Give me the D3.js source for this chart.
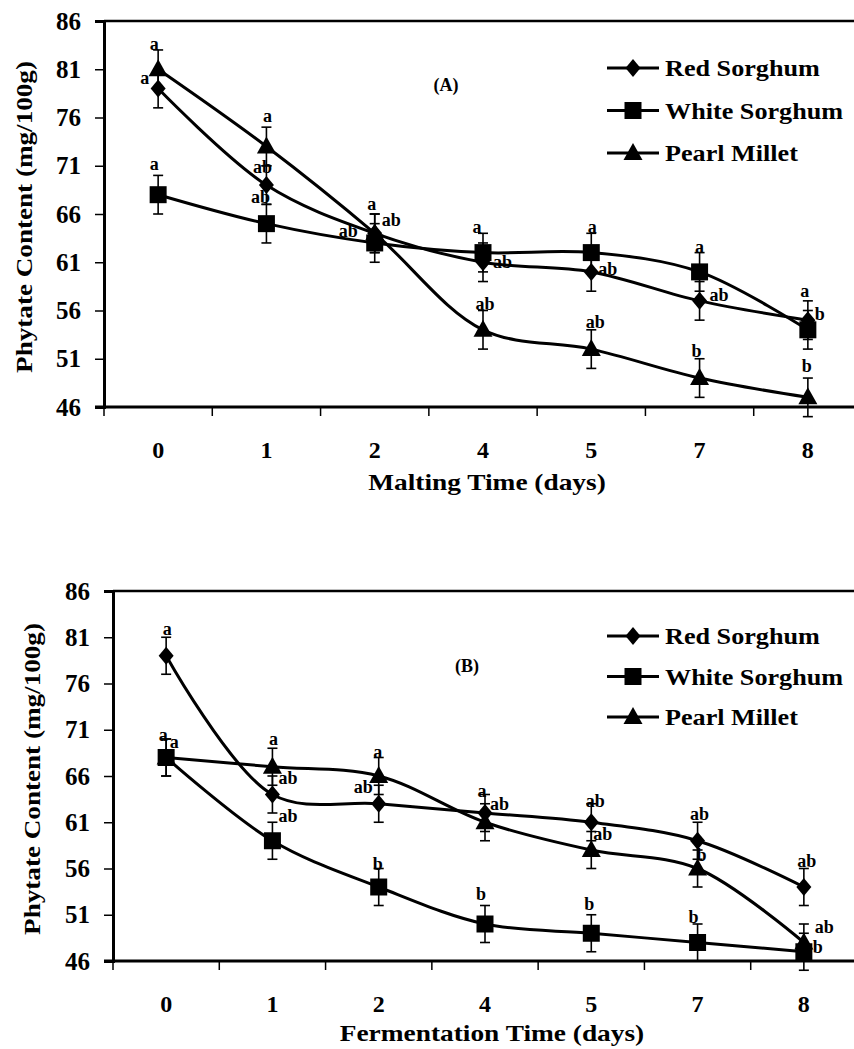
<!DOCTYPE html>
<html><head><meta charset="utf-8">
<script src="https://cdn.jsdelivr.net/npm/d3@7"></script>
<style>body{margin:0;background:#fff}svg{display:block}text{font-family:"Liberation Serif","Times New Roman",serif;font-weight:bold;fill:#000}</style>
</head><body>
<script>
const categories = ["0","1","2","4","5","7","8"];
const seriesNames = ["Red Sorghum","White Sorghum","Pearl Millet"];
const yTicks = [46,51,56,61,66,71,76,81,86];
// Panel A: malting
const maltRed   = [79,69,64,61,60,57,55];
const maltWhite = [68,65,63,62,62,60,54];
const maltPearl = [81,73,64,54,52,49,47];
const maltErr   = [2,2,2,2,2,2,2];
const maltRedSig   = ["a","ab","ab","ab","ab","ab","a"];
const maltWhiteSig = ["a","ab","ab","a","a","a","b"];
const maltPearlSig = ["a","a","a","ab","ab","b","b"];
// Panel B: fermentation
const fermRed   = [79,64,63,62,61,59,54];
const fermWhite = [68,59,54,50,49,48,47];
const fermPearl = [68,67,66,61,58,56,48];
const fermErr   = [2,2,2,2,2,2,2];
const fermRedSig   = ["a","ab","ab","a","ab","ab","ab"];
const fermWhiteSig = ["a","ab","b","b","b","b","b"];
const fermPearlSig = ["a","a","a","ab","ab","b","ab"];

const W=854,H=1049;
const svg=d3.select("body").append("svg").attr("width",W).attr("height",H);

// custom marker shapes
const diamondT={draw(c){c.moveTo(0,-9);c.lineTo(7.5,0);c.lineTo(0,9);c.lineTo(-7.5,0);c.closePath();}};
const squareT={draw(c){c.rect(-8.5,-8.5,17,17);}};
const triT={draw(c){c.moveTo(0,-10);c.lineTo(9.5,7);c.lineTo(-9.5,7);c.closePath();}};
const shapes=[diamondT,squareT,triT];

function stretch(sel,f){
  sel.each(function(){const n=this.getComputedTextLength();d3.select(this).attr("textLength",n*f).attr("lengthAdjust","spacingAndGlyphs");});
}

function panel(cfg){
  const g=svg.append("g");
  const x=d3.scaleBand().domain(categories).range([cfg.left,cfg.right]);
  const y=d3.scaleLinear().domain([46,86]).range([cfg.bottom,cfg.top]);
  const cx=c=>x(c)+x.bandwidth()/2;

  g.append("line").attr("x1",cfg.left).attr("x2",W).attr("y1",cfg.top).attr("y2",cfg.top)
    .attr("stroke","#000").attr("stroke-width",2.5);

  const ya=g.append("g").attr("transform",`translate(${cfg.left},0)`)
    .call(d3.axisLeft(y).tickValues(yTicks).tickSize(9).tickPadding(14));
  ya.select(".domain").attr("stroke-width",3);
  ya.selectAll(".tick line").attr("stroke-width",1.5);
  ya.selectAll("text").style("font-size","25px").attr("fill","#000");

  const xa=g.append("g").attr("transform",`translate(0,${cfg.bottom})`);
  xa.append("line").attr("x1",cfg.left-9).attr("x2",W).attr("y1",0).attr("y2",0)
    .attr("stroke","#000").attr("stroke-width",3);
  xa.selectAll(".bt").data(categories).join("line").attr("class","bt")
    .attr("x1",d=>x(d)).attr("x2",d=>x(d)).attr("y1",0).attr("y2",9).attr("stroke","#000").attr("stroke-width",1.5);
  xa.selectAll(".xl").data(categories).join("text").attr("class","xl")
    .attr("x",d=>cx(d)).attr("y",51).attr("text-anchor","middle").style("font-size","24px").text(d=>d);

  stretch(g.append("text").attr("x",cfg.xTitleX).attr("y",cfg.xTitleY).attr("text-anchor","middle")
    .style("font-size","24px").text(cfg.xTitle),1.14);
  stretch(g.append("text").attr("transform",`translate(${cfg.yTitleX},${cfg.yTitleY}) rotate(-90)`)
    .attr("text-anchor","middle").style("font-size","24px").text("Phytate Content (mg/100g)"),1.13);

  g.append("text").attr("x",cfg.tagX).attr("y",cfg.tagY).attr("text-anchor","middle")
    .style("font-size","18px").text(cfg.tag);

  const line=d3.line().x((d,i)=>cx(categories[i])).y(d=>y(d)).curve(d3.curveCatmullRom.alpha(0.5));

  cfg.series.forEach(vals=>{
    g.append("path").datum(vals).attr("d",line).attr("fill","none").attr("stroke","#000").attr("stroke-width",3);
  });
  cfg.series.forEach(vals=>{
    const eg=g.append("g").attr("stroke","#000").attr("stroke-width",1.6);
    vals.forEach((v,i)=>{
      const px=cx(categories[i]), e=cfg.err[i];
      eg.append("line").attr("x1",px).attr("x2",px).attr("y1",y(v-e)).attr("y2",y(v+e));
      [v-e,v+e].forEach(t=>eg.append("line").attr("x1",px-5).attr("x2",px+5).attr("y1",y(t)).attr("y2",y(t)));
    });
  });
  cfg.series.forEach((vals,si)=>{
    g.selectAll(null).data(vals).join("path")
      .attr("transform",(d,i)=>`translate(${cx(categories[i])},${y(d)})`)
      .attr("d",d3.symbol().type(shapes[si])).attr("fill","#000");
  });
  const anc={m:"middle",s:"start",e:"end"};
  cfg.series.forEach((vals,si)=>{
    vals.forEach((v,i)=>{
      const p=cfg.place[si][i];
      g.append("text").attr("x",cx(categories[i])+p[0]).attr("y",y(v)+p[1])
        .attr("text-anchor",anc[p[2]]).style("font-size","18px").text(cfg.sig[si][i]);
    });
  });

  seriesNames.forEach((n,si)=>{
    const ly=cfg.legY+si*cfg.legGap;
    g.append("line").attr("x1",607).attr("x2",659).attr("y1",ly).attr("y2",ly).attr("stroke","#000").attr("stroke-width",3);
    g.append("path").attr("transform",`translate(633,${ly})`).attr("d",d3.symbol().type(shapes[si])).attr("fill","#000");
    stretch(g.append("text").attr("x",665).attr("y",ly+8).style("font-size","24px").text(n),1.09);
  });
}

panel({left:104,right:862,top:21,bottom:407,xTitle:"Malting Time (days)",xTitleX:487,xTitleY:490,
  yTitleX:32,yTitleY:217,tag:"(A)",tagX:446,tagY:91,legY:68,legGap:42.5,
  series:[maltRed,maltWhite,maltPearl],err:maltErr,sig:[maltRedSig,maltWhiteSig,maltPearlSig],
  place:[[[-9,-5,"e"],[-4,-12,"m"],[7,-7,"s"],[10,6,"s"],[7,3,"s"],[10,0,"s"],[-3,-23,"m"]],
         [[-4,-25,"m"],[-6,-21,"m"],[-17,-6,"e"],[-6,-20,"m"],[1,-20,"m"],[0,-19,"m"],[7,-10,"s"]],
         [[-4,-19,"m"],[1,-24,"m"],[-3,-23,"m"],[2,-20,"m"],[4,-21,"m"],[-3,-21,"m"],[-1,-25,"m"]]]});

panel({left:113,right:857,top:591,bottom:961,xTitle:"Fermentation Time (days)",xTitleX:492,xTitleY:1041,
  yTitleX:40,yTitleY:779,tag:"(B)",tagX:467,tagY:672,legY:636,legGap:40.5,
  series:[fermRed,fermWhite,fermPearl],err:fermErr,sig:[fermRedSig,fermWhiteSig,fermPearlSig],
  place:[[[1,-21,"m"],[6,-11,"s"],[-6,-11,"e"],[-3,-16,"m"],[4,-15,"m"],[2,-21,"m"],[3,-20,"m"]],
         [[-3,-17,"m"],[6,-19,"s"],[-1,-17,"m"],[-4,-24,"m"],[-2,-23,"m"],[-4,-20,"m"],[9,1,"s"]],
         [[8,-10,"m"],[1,-22,"m"],[-1,-18,"m"],[5,-12,"s"],[2,-10,"s"],[4,-8,"m"],[11,-10,"s"]]]});
</script>
</body></html>
